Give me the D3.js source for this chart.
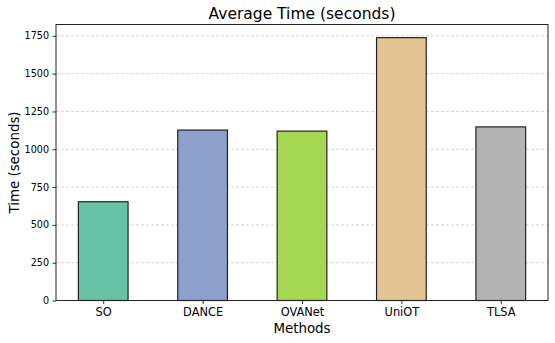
<!DOCTYPE html>
<html>
<head>
<meta charset="utf-8">
<script src="https://cdn.jsdelivr.net/npm/d3@7"></script>
<style>
  body { margin: 0; background: #fff; }
  svg { font-family: "DejaVu Sans", sans-serif; }
</style>
</head>
<body>
<div id="chart"></div>
<script>
// chart data
const methods = ['SO', 'DANCE', 'OVANet', 'UniOT', 'TLSA'];
const avgTimes = [653, 1127, 1120, 1738, 1148];
const barColors = ['#66c2a5', '#8da0cb', '#a6d854', '#e5c494', '#b3b3b3'];
const yTicks = [0, 250, 500, 750, 1000, 1250, 1500, 1750];

const width = 555, height = 343;
const margin = { top: 24.5, right: 7, bottom: 42.5, left: 56 };
const innerW = width - margin.left - margin.right;
const innerH = height - margin.top - margin.bottom;

const svg = d3.select('#chart')
    .append('svg')
    .attr('width', width)
    .attr('height', height);

const g = svg.append('g')
    .attr('transform', `translate(${margin.left},${margin.top})`);

const x = d3.scaleLinear()
    .domain([-0.475, methods.length - 1 + 0.475])
    .range([0, innerW]);

const y = d3.scaleLinear()
    .domain([0, 1825])
    .range([innerH, 0]);

// grid lines
g.append('g')
    .selectAll('line')
    .data(yTicks)
    .enter().append('line')
    .attr('x1', 0)
    .attr('x2', innerW)
    .attr('y1', d => y(d))
    .attr('y2', d => y(d))
    .attr('stroke', '#c8c8c8')
    .attr('stroke-width', 0.8)
    .attr('stroke-dasharray', '3,2');

// bars
const barW = x(0.5) - x(0);
g.append('g')
    .selectAll('rect')
    .data(avgTimes)
    .enter().append('rect')
    .attr('x', (d, i) => x(i) - barW / 2)
    .attr('y', d => y(d))
    .attr('width', barW)
    .attr('height', d => innerH - y(d))
    .attr('fill', (d, i) => barColors[i])
    .attr('stroke', '#222')
    .attr('stroke-width', 1.2);

// axes
const yAxis = d3.axisLeft(y).tickValues(yTicks).tickFormat(d3.format('d'))
    .tickSize(3.5).tickPadding(3.5);
const xAxis = d3.axisBottom(x).tickValues(d3.range(methods.length))
    .tickFormat(i => methods[i]).tickSize(3.5).tickPadding(4);

const gy = g.append('g').call(yAxis);
gy.select('.domain').remove();
gy.selectAll('text').attr('font-size', 9.6).attr('fill', '#000').attr('font-family', '"DejaVu Sans", sans-serif');
gy.selectAll('line').attr('stroke', '#333');

const gx = g.append('g').attr('transform', `translate(0,${innerH})`).call(xAxis);
gx.select('.domain').remove();
gx.selectAll('text').attr('font-size', 11.4).attr('fill', '#000').attr('font-family', '"DejaVu Sans", sans-serif');
gx.selectAll('line').attr('stroke', '#333');

// frame
g.append('rect')
    .attr('x', 0).attr('y', 0)
    .attr('width', innerW).attr('height', innerH)
    .attr('fill', 'none')
    .attr('stroke', '#222')
    .attr('stroke-width', 1);

// labels
svg.append('text')
    .attr('x', margin.left + innerW / 2)
    .attr('y', 18.5)
    .attr('text-anchor', 'middle')
    .attr('font-size', 15.5)
    .text('Average Time (seconds)');

svg.append('text')
    .attr('x', margin.left + innerW / 2)
    .attr('y', 333)
    .attr('text-anchor', 'middle')
    .attr('font-size', 13.4)
    .text('Methods');

svg.append('text')
    .attr('transform', `translate(18.5,${margin.top + innerH / 2}) rotate(-90)`)
    .attr('text-anchor', 'middle')
    .attr('font-size', 13.4)
    .text('Time (seconds)');
</script>
</body>
</html>
